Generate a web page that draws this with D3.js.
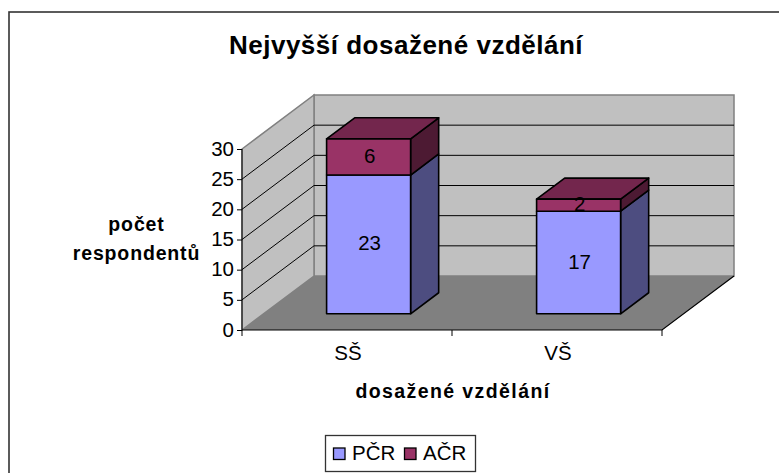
<!DOCTYPE html>
<html><head><meta charset="utf-8">
<script src="https://cdn.jsdelivr.net/npm/d3@7/dist/d3.min.js"></script>
<style>html,body{margin:0;padding:0;background:#fff}svg{display:block}text{font-family:"Liberation Sans",Arial,sans-serif;fill:#000}</style>
</head><body><svg id="c" width="779" height="473"></svg>
<script>
const categories = ["SŠ", "VŠ"];
const seriesNames = ["PČR", "AČR"];
const pcrValues = [23, 17];
const acrValues = [6, 2];
const yTicks = [0, 5, 10, 15, 20, 25, 30];
const seriesColors = ["#9999ff", "#993366"];
const sideColors = ["#4d4d80", "#4d1a33"];
const topColors = ["#7373bf", "#73264d"];
const chartTitle = "Nejvyšší dosažené vzdělání";
const xTitle = "dosažené vzdělání";
const yTitle = ["počet", "respondentů"];

const svg = d3.select("#c");
const x = d3.scaleBand().domain(categories).range([242, 662]).paddingInner(0).paddingOuter(0);
const y = d3.scaleLinear().domain([0, 30]).range([330, 149]);
const zx = d3.scaleLinear().domain([0, 1]).range([0, 72]);
const zy = d3.scaleLinear().domain([0, 1]).range([0, -54]);
const P = (px, val, z) => [px + zx(z), y(val) + zy(z)];
const poly = pts => "M" + pts.map(p => p.join(",")).join("L") + "Z";
const FS = 20.5;

svg.append("rect").attr("x", 9).attr("y", 12).attr("width", 800).attr("height", 500)
  .attr("fill", "#fff").attr("stroke", "#333").attr("stroke-width", 1.6);

svg.append("text").attr("x", 406).attr("y", 54).attr("text-anchor", "middle")
  .attr("font-size", 26).attr("font-weight", "bold").attr("letter-spacing", 0.5).text(chartTitle);

const x0 = x.range()[0], x1 = x.range()[1];
svg.append("path").attr("d", poly([P(x0,0,1),P(x0,30,1),P(x1,30,1),P(x1,0,1)])).attr("fill","#c0c0c0").attr("stroke","#808080").attr("stroke-width",1.5);
svg.append("path").attr("d", poly([P(x0,0,0),P(x0,30,0),P(x0,30,1),P(x0,0,1)])).attr("fill","#c0c0c0").attr("stroke","#808080").attr("stroke-width",1.5);
svg.append("path").attr("d", poly([P(x0,0,0),P(x0,0,1),P(x1,0,1),P(x1,0,0)])).attr("fill","#808080");

yTicks.filter(t => t > 0 && t < 30).forEach(t => {
  const a = P(x0,t,0), b = P(x0,t,1), c = P(x1,t,1);
  svg.append("path").attr("d", "M"+a+"L"+b+"L"+c).attr("fill","none").attr("stroke","#000").attr("stroke-width",1);
});
svg.append("path").attr("d", "M"+P(x0,0,0)+"L"+P(x1,0,0)+"L"+P(x1,0,1)).attr("fill","none").attr("stroke","#000").attr("stroke-width",1.2);

const yAxis = d3.axisLeft(y).tickValues(yTicks).tickSize(5).tickPadding(3);
const gy = svg.append("g").attr("transform","translate("+x0+",0)").call(yAxis);
gy.select(".domain").attr("stroke","#000").attr("d","M0,"+y(30)+"V"+y(0));
gy.selectAll("text").attr("font-size",FS).attr("font-family","Liberation Sans").attr("fill","#000").attr("dy","0.3em");
const gx = svg.append("g").attr("transform","translate(0,"+y(0)+")");
categories.concat(["end"]).forEach(c=>{
  const px = c==="end"? x1 : x(c);
  gx.append("line").attr("x1",px).attr("x2",px).attr("y1",0).attr("y2",6).attr("stroke","#000");
});
categories.forEach(c=>{
  gx.append("text").attr("x",x(c)+x.bandwidth()/2+1).attr("y",30).attr("text-anchor","middle").attr("font-size",FS).text(c);
});

const barW = x.bandwidth()/2.5;
const zA = 0.3, zB = 0.69;
const seriesValues = [pcrValues, acrValues];
categories.forEach((c,i) => {
  const l = x(c)+(x.bandwidth()-barW)/2, r = l+barW;
  let base = 0;
  const labels = [];
  seriesValues.forEach((vals,s) => {
    const v0 = base, v1 = base+vals[i];
    const g = svg.append("g").attr("stroke","#000").attr("stroke-width",1.6).attr("stroke-linejoin","round");
    g.append("path").attr("d",poly([P(r,v0,zA),P(r,v0,zB),P(r,v1,zB),P(r,v1,zA)])).attr("fill",sideColors[s]);
    if (s===seriesValues.length-1)
      g.append("path").attr("d",poly([P(l,v1,zA),P(l,v1,zB),P(r,v1,zB),P(r,v1,zA)])).attr("fill",topColors[s]);
    g.append("path").attr("d",poly([P(l,v0,zA),P(l,v1,zA),P(r,v1,zA),P(r,v0,zA)])).attr("fill",seriesColors[s]);
    const p = P((l+r)/2,(v0+v1)/2,zA);
    labels.push([p[0],p[1],vals[i]]);
    base = v1;
  });
  labels.forEach(d=>svg.append("text").attr("x",d[0]+1).attr("y",d[1]+6).attr("text-anchor","middle").attr("font-size",FS).text(d[2]));
});

svg.append("text").attr("x",453).attr("y",398).attr("text-anchor","middle").attr("font-size",19.5).attr("font-weight","bold").attr("letter-spacing",1.4).text(xTitle);
yTitle.forEach((t,i)=>svg.append("text").attr("x",136.5).attr("y",231+i*29).attr("text-anchor","middle").attr("font-size",19.5).attr("font-weight","bold").attr("letter-spacing",0.85).text(t));

svg.append("rect").attr("x",325.5).attr("y",435.5).attr("width",150).attr("height",36).attr("fill","#fff").attr("stroke","#333").attr("stroke-width",1.3);
[[333.5,352],[404.5,423]].forEach((pos,i)=>{
  svg.append("rect").attr("x",pos[0]).attr("y",448).attr("width",11.5).attr("height",11.5).attr("fill",seriesColors[i]).attr("stroke","#000").attr("stroke-width",1.3);
  svg.append("text").attr("x",pos[1]).attr("y",459.5).attr("font-size",FS).text(seriesNames[i]);
});
</script></body></html>
